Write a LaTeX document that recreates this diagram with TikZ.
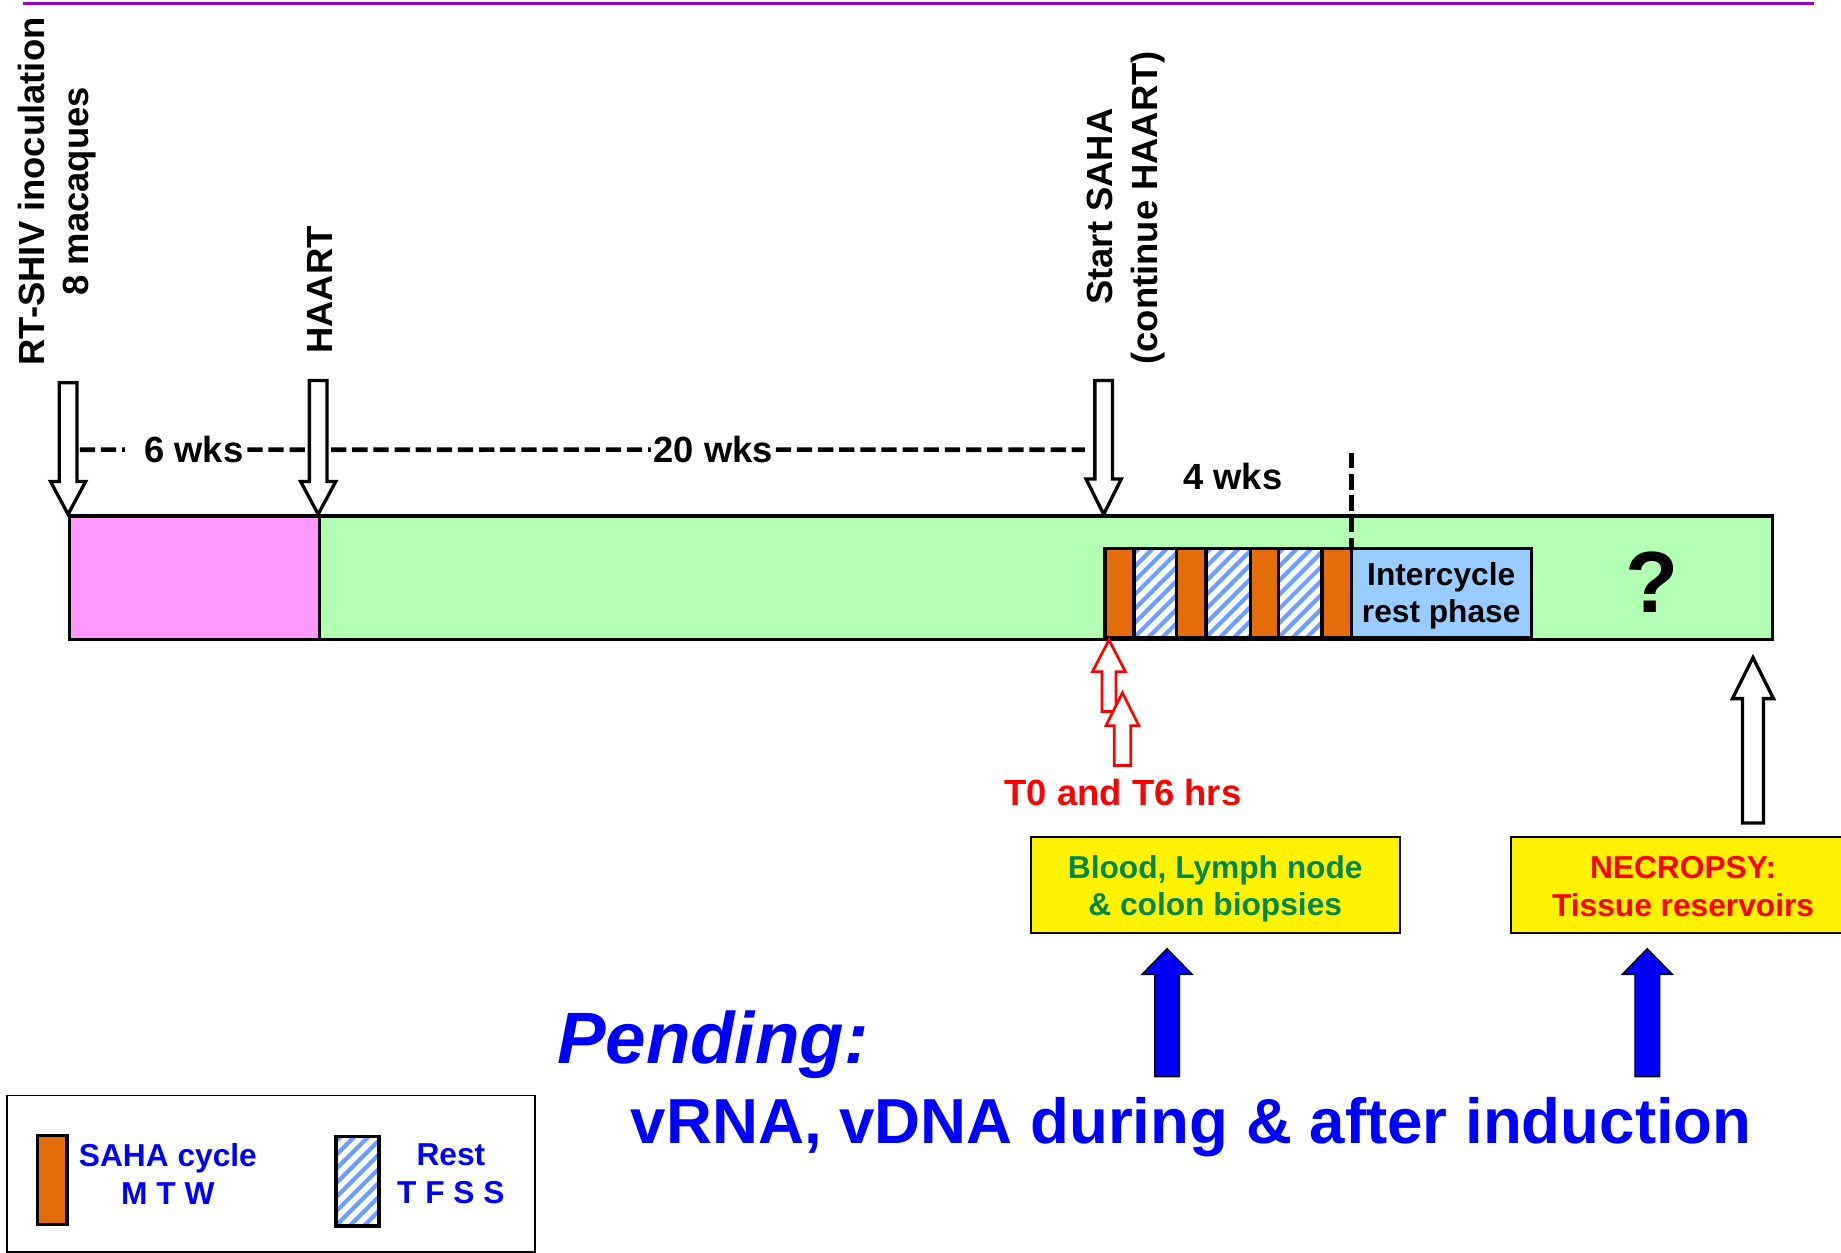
\documentclass[tikz,border=0pt]{standalone}
\usepackage{fontspec}
\setmainfont{Liberation Sans}
\definecolor{pinkfill}{HTML}{FF99FF}
\definecolor{greenfill}{HTML}{B3FFB3}
\definecolor{sahaorange}{HTML}{E46C0A}
\definecolor{restblue}{HTML}{99CCFF}
\definecolor{hatchblue}{HTML}{6E9EFF}
\definecolor{biopsygreen}{HTML}{00884A}
\definecolor{topline}{HTML}{9900CC}
\tikzset{
  barseg/.style={draw=black, line width=1.4pt, inner sep=0pt, anchor=north west, minimum height=52.5pt},
  blockline/.style={draw=black, line width=1.5pt},
  hatchline/.style={draw=hatchblue, line width=1.8pt},
  hollowarrow/.style={draw=black, fill=white, line width=1.4pt, line join=miter},
  redarrow/.style={draw=red, fill=white, line width=1.15pt, line join=miter},
  bluearrow/.style={draw=black, fill=blue, line width=0.6pt, line join=miter},
  dashline/.style={draw=black, line width=2pt, dash pattern=on 6.5pt off 2.5pt},
  vlabel/.style={rotate=90, anchor=base, inner sep=0pt, font=\fontsize{15.5}{18}\selectfont\bfseries},
  hlabel/.style={anchor=base, inner sep=0pt, font=\fontsize{15.5}{18}\selectfont\bfseries},
  boxtext/.style={font=\fontsize{13.5}{16}\selectfont\bfseries, align=center, inner sep=0pt},
  yellowbox/.style={draw=black, line width=0.85pt, fill=yellow, minimum height=41pt, inner sep=0pt},
}
% #1 style, #2 x, #3 tail y, #4 head-base y, #5 tip y, #6 half shaft, #7 half head
\newcommand{\vblockarrow}[7]{%
  \draw[#1] ({#2-#6},#3) -- ({#2-#6},#4) -- ({#2-#7},#4) -- (#2,#5) -- ({#2+#7},#4) -- ({#2+#6},#4) -- ({#2+#6},#3) -- cycle;}
\newcommand{\hatchfill}[4]{%
  \begin{scope}
    \clip (#1,#2) rectangle (#3,#4);
    \fill[white] (#1,#2) rectangle (#3,#4);
    \foreach \hk in {-8,...,8}{\draw[hatchline] ({#1+\hk*12},#4) -- ++(100,-100);}
  \end{scope}
  \draw[blockline] (#1,#2) rectangle (#3,#4);}
\begin{document}
\begin{tikzpicture}[x=0.5pt,y=-0.5pt]
\useasboundingbox (0,0) rectangle (1568,1067);
\clip (0,0) rectangle (1568,1067);
\fill[white] (0,0) rectangle (1568,1067);

% top rule
\draw[line width=1.3pt, topline] (20,3) -- (1545,3);

% timeline bar
\node[barseg, fill=greenfill, minimum width=618.5pt] (treat) at (271,438) {};
\node[barseg, fill=pinkfill, minimum width=106.5pt] (acute) at (58,438) {};

% SAHA cycles
\draw[blockline, fill=sahaorange] (941,467) rectangle (966,543);
\hatchfill{966}{467}{1002}{543}
\draw[blockline, fill=sahaorange] (1002,467) rectangle (1027,543);
\hatchfill{1027}{467}{1065}{543}
\draw[blockline, fill=sahaorange] (1065,467) rectangle (1089,543);
\hatchfill{1089}{467}{1126}{543}
\draw[blockline, fill=sahaorange] (1126,467) rectangle (1151,543);
\node[draw=black, line width=1.3pt, fill=restblue, minimum width=76.5pt, minimum height=38pt, inner sep=0pt] (intercycle) at (1227.5,505) {};
\node[boxtext, yshift=-1.3pt] (intertext) at (intercycle.center) {Intercycle\\rest phase};
\node[anchor=base, inner sep=0pt, font=\fontsize{37}{40}\selectfont\bfseries] (unknown) at (1407,522) {?};

% downward event arrows
\vblockarrow{hollowarrow}{58}{326}{410}{438}{7.5}{15}
\vblockarrow{hollowarrow}{271}{324}{410}{438}{7.5}{15}
\vblockarrow{hollowarrow}{940}{324}{408}{438}{7.5}{15}

% rotated labels
\node[vlabel] (inoc) at (37.5,163) {RT-SHIV inoculation};
\node[vlabel] (macaques) at (75.5,163) {8 macaques};
\node[vlabel] (haartlbl) at (283.5,247) {HAART};
\node[vlabel] (startsaha) at (947.5,176) {Start SAHA};
\node[vlabel] (contin) at (986,177) {(continue HAART)};

% durations
\coordinate (sixL) at (68,383);
\coordinate (sixR) at (262,383);
\coordinate (twL) at (282,383);
\coordinate (twR) at (924,383);
\node[hlabel] (six) at (165,394) {6 wks};
\node[hlabel] (twenty) at (607.5,394) {20 wks};
\node[hlabel] (four) at (1050,417) {4 wks};
\draw[dashline] (sixL) -- ([xshift=-8pt]six.west);
\draw[dashline] ([xshift=1.5pt]six.east) -- (sixR);
\draw[dashline] (twL) -- ([xshift=-1pt]twenty.west);
\draw[dashline] ([xshift=1pt]twenty.east) -- (twR);
\coordinate (cycTop) at (1151,386);
\coordinate (cycEnd) at (1151,466);
\draw[dashline] (cycTop) -- (cycEnd);

% sampling arrows
\vblockarrow{redarrow}{944.5}{606}{572}{545}{6}{14}
\vblockarrow{redarrow}{956}{652}{618}{590}{7}{14}
\node[hlabel, text=red] (tzero) at (956.5,686) {T0 and T6 hrs};
\vblockarrow{hollowarrow}{1493}{701}{595}{560}{9}{17.5}

% sample boxes
\node[yellowbox, minimum width=157pt] (biopsy) at (1035,754) {};
\node[boxtext, text=biopsygreen, yshift=-1.5pt] (biopsytext) at (biopsy.center) {Blood, Lymph node\\\& colon biopsies};
\node[yellowbox, minimum width=146.5pt] (necropsy) at (1433.5,754) {};
\node[boxtext, text=red, yshift=-0.5pt] (necropsytext) at (necropsy.center) {NECROPSY:\\Tissue reservoirs};

% blue arrows
\vblockarrow{bluearrow}{994}{917}{830}{808}{10.5}{21.5}
\vblockarrow{bluearrow}{1403}{917}{830}{808}{10.5}{21.5}

% pending text
\node[anchor=base west, inner sep=0pt, text=blue, font=\fontsize{31}{36}\selectfont\bfseries\itshape] (pending) at (474,906) {Pending:};
\node[anchor=base west, inner sep=0pt, text=blue, font=\fontsize{27.1}{32}\selectfont\bfseries] (pendlist) at (537,974) {vRNA, vDNA during \& after induction};

% legend
\node[draw=black, line width=0.8pt, minimum width=225pt, minimum height=66.5pt, inner sep=0pt] (legend) at (231,999.5) {};
\draw[blockline, fill=sahaorange] (32,967) rectangle (57,1043);
\hatchfill{286}{968}{323}{1044}
\node[boxtext, text=blue] (sahalegend) at (143,999.8) {SAHA cycle\\M T W};
\node[boxtext, text=blue] (restlegend) at (384,999.8) {Rest\\T F S S};
\end{tikzpicture}
\end{document}
